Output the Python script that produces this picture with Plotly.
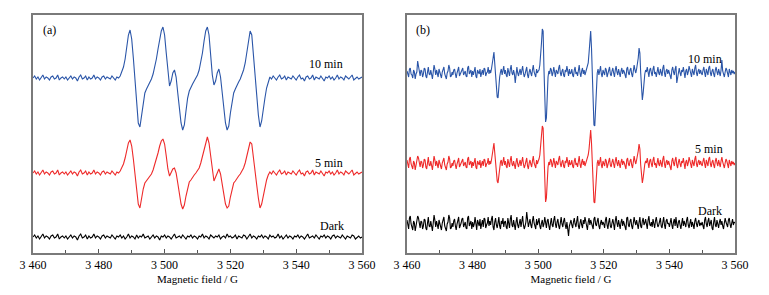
import plotly.graph_objects as go

# Magnetic field grids (G)
field_start = 3460
step_a = 0.5
step_b = 0.25

tick_vals = [3460, 3480, 3500, 3520, 3540, 3560]
tick_text = ["3 460", "3 480", "3 500", "3 520", "3 540", "3 560"]

# ---- Panel (a): 0.5 G sampling ----
a_10min = [
    175,177,174,176,173,175,178,174,176,175,173,176,177,174,175,178,173,175,176,174,  # 3460
    176,173,175,177,174,176,175,172,176,178,174,175,177,173,176,174,175,178,174,176,  # 3470
    175,173,176,177,174,176,175,174,177,175,173,176,175,177,181,186,194,208,218,223,  # 3480
    214,195,170,147,130,126,138,152,160,164,167,170,174,179,186,194,204,214,222,226,  # 3490
    218,200,180,167,172,180,183,176,160,143,130,123,128,142,155,162,166,169,172,175,  # 3500
    178,183,190,200,212,222,226,218,198,178,168,172,180,184,176,160,144,130,123,127,  # 3510
    140,152,160,164,168,171,174,178,183,190,200,212,222,218,200,180,158,138,126,132,  # 3520
    145,155,165,172,176,174,177,175,173,176,178,174,175,177,173,176,175,174,177,175,  # 3530
    173,176,178,174,175,172,176,177,174,175,178,173,176,175,174,177,175,172,176,175,  # 3540
    177,174,176,173,175,178,174,176,175,173,177,175,174,176,178,173,175,176,174,175,  # 3550
    176,
]
a_5min = [
    80,82,79,81,78,80,83,79,81,80,78,81,82,79,80,83,78,80,81,79,
    81,78,80,82,79,81,80,77,81,83,79,80,82,78,81,79,80,83,79,81,
    80,78,81,82,79,81,80,79,82,80,78,81,80,82,85,89,95,104,110,113,
    107,94,77,61,49,45,55,64,70,72,75,77,79,83,88,93,100,107,112,114,
    109,97,84,77,80,84,85,80,70,58,49,44,48,57,66,71,73,76,78,80,
    82,85,90,97,105,112,116,110,96,82,72,76,81,84,79,69,58,49,45,47,
    56,64,70,72,75,77,79,82,85,90,97,105,111,109,97,83,68,55,45,49,
    58,66,73,78,81,79,82,80,78,81,83,79,80,82,78,81,80,79,82,80,
    78,81,83,79,80,77,81,82,79,80,83,78,81,80,79,82,80,77,81,80,
    82,79,81,78,80,83,79,81,80,78,82,80,79,81,83,78,80,81,79,80,
    81,
]
a_dark = [
    16,18,15,17,14,16,19,15,17,16,14,17,18,15,16,19,14,16,17,15,
    17,14,16,18,15,17,16,13,17,19,15,16,18,14,17,15,16,19,15,17,
    16,14,17,18,15,17,16,15,18,16,14,17,16,18,15,17,14,16,19,15,
    17,16,14,18,15,17,16,19,15,16,17,14,16,18,15,17,16,13,17,16,
    18,15,17,16,14,17,19,15,16,17,15,18,16,14,17,16,18,15,17,16,
    14,17,16,19,15,17,16,14,18,16,15,17,16,18,14,16,17,15,19,16,
    17,15,16,18,14,17,16,15,18,17,14,16,19,15,17,16,14,17,16,18,
    15,17,16,14,18,16,17,15,16,19,15,17,14,16,18,15,17,16,14,17,
    16,18,15,17,16,14,17,19,15,16,17,15,18,16,14,17,16,18,15,17,
    16,14,17,18,15,17,16,15,18,16,14,17,16,15,18,17,14,16,17,15,
    16,
]

# ---- Panel (b): 0.25 G sampling ----
b_10min = [
    # 3460
    182,178,176,184,185,179,178,175,183,181,
    174,179,181,192,187,180,177,183,182,176,
    179,185,184,177,175,181,186,179,178,183,
    176,174,181,188,184,178,183,180,176,184,
    # 3470
    180,177,175,181,183,186,179,176,174,180,
    182,188,185,176,177,181,178,183,184,179,
    175,180,183,186,177,179,181,184,185,178,
    180,182,177,176,185,187,179,181,183,176,
    # 3480
    182,178,181,186,177,175,183,180,179,184,
    176,180,183,178,185,184,177,180,181,186,
    179,183,180,184,188,195,201,190,175,162,
    156,155,168,176,181,184,178,182,187,179,
    # 3490
    183,178,176,185,181,177,184,188,180,178,
    183,179,170,182,186,180,177,181,184,178,
    183,187,180,176,179,182,186,178,175,181,
    184,180,177,183,188,181,178,176,184,180,
    # 3500
    182,183,188,196,210,224,222,185,150,131,
    135,160,176,182,179,185,183,177,180,186,
    178,176,183,181,179,185,188,180,177,182,
    184,178,176,183,181,187,180,177,184,179,
    # 3510
    180,184,178,176,183,186,179,181,177,184,
    188,180,176,182,185,179,183,178,181,184,
    185,190,200,212,222,205,170,140,128,127,
    150,170,180,184,178,182,187,179,176,183,
    # 3520
    181,178,185,183,176,180,184,186,179,177,
    182,185,180,176,183,187,181,178,184,180,
    176,182,185,179,183,181,177,175,184,186,
    180,178,183,185,179,176,182,188,183,180,
    # 3530
    184,188,195,205,200,180,162,153,160,172,
    179,183,181,186,178,176,183,185,180,177,
    184,187,179,181,176,183,186,180,178,184,
    181,177,185,188,180,176,182,184,179,183,
    # 3540
    180,177,174,183,186,181,178,184,187,170,
    176,182,185,180,177,183,181,186,179,175,
    182,184,178,181,187,183,179,176,184,181,
    178,185,188,180,177,182,184,179,183,180,
    # 3550
    178,183,186,180,176,184,181,178,185,187,
    180,177,182,184,179,176,183,186,181,178,
    184,180,177,183,193,182,178,176,181,185,
    183,179,176,184,181,178,183,180,182,179,
    181,
]
b_5min = [
    # 3460
    93,88,85,94,96,89,87,84,92,90,
    83,88,91,97,95,89,86,92,91,85,
    88,94,93,86,84,90,96,88,87,92,
    85,83,90,97,93,87,92,89,85,93,
    # 3470
    89,86,84,90,92,95,88,85,83,89,
    91,97,94,85,86,90,87,92,93,88,
    84,89,92,95,86,88,90,93,94,87,
    89,91,86,85,94,96,88,90,92,85,
    # 3480
    91,87,90,95,86,84,92,89,88,93,
    85,89,92,87,94,93,86,89,90,95,
    88,92,89,93,97,104,110,100,88,78,
    72,70,80,87,91,93,87,91,96,88,
    # 3490
    92,87,85,94,90,86,93,97,89,87,
    92,88,84,91,95,89,86,90,93,87,
    92,96,89,85,88,91,95,87,84,90,
    93,89,86,92,97,90,87,85,93,89,
    # 3500
    92,94,98,106,116,127,125,95,68,51,
    55,75,86,91,88,94,92,86,89,95,
    87,85,92,90,88,94,97,89,86,91,
    93,87,85,92,90,96,89,86,93,88,
    # 3510
    89,93,87,85,92,95,88,90,86,93,
    97,89,85,91,94,88,92,87,90,93,
    94,98,104,113,123,110,85,62,51,50,
    68,82,90,93,87,91,96,88,85,92,
    # 3520
    90,87,94,92,85,89,93,95,88,86,
    91,94,89,85,92,96,90,87,93,89,
    85,91,94,88,92,90,86,84,93,95,
    89,87,92,94,88,85,91,97,92,89,
    # 3530
    93,97,102,109,104,88,76,70,75,84,
    89,92,90,95,87,85,92,94,89,86,
    93,96,88,90,85,92,95,89,87,93,
    90,86,94,97,89,85,91,93,88,92,
    # 3540
    89,86,83,92,95,90,87,93,96,88,
    85,91,94,89,86,92,90,95,88,84,
    91,93,87,90,96,92,88,85,93,90,
    87,94,97,89,86,91,93,88,92,89,
    # 3550
    87,92,95,89,85,93,90,87,94,96,
    89,86,91,93,88,85,92,95,90,87,
    93,89,86,92,96,91,87,85,90,94,
    92,88,85,93,90,87,92,89,91,88,
    90,
]
b_dark = [
    # 3460
    33,27,24,35,37,29,26,23,32,30,
    22,28,31,37,35,28,25,32,31,24,
    27,34,33,25,23,30,36,27,26,32,
    24,22,30,38,33,26,32,29,24,33,
    # 3470
    29,25,23,30,33,36,27,24,22,29,
    31,38,35,24,25,30,26,32,34,27,
    23,29,32,36,25,27,30,34,35,26,
    29,31,25,24,35,37,27,30,32,24,
    # 3480
    31,26,29,36,25,23,33,28,27,34,
    24,29,33,26,35,34,25,28,30,36,
    27,32,28,34,37,26,23,31,35,28,
    25,30,36,27,24,32,29,35,26,31,
    # 3490
    32,26,24,35,30,25,34,38,28,26,
    33,27,23,31,36,28,25,30,34,26,
    32,37,28,24,27,31,41,33,26,30,
    34,28,25,32,37,30,26,24,34,28,
    # 3500
    31,35,27,24,30,33,26,29,36,28,
    25,32,34,27,23,30,35,28,26,33,
    37,29,25,31,34,27,24,30,36,29,
    26,32,35,28,24,31,22,17,27,30,
    # 3510
    33,28,25,31,35,29,26,32,37,27,
    24,30,34,28,25,33,29,36,31,26,
    23,31,35,28,33,30,26,24,34,36,
    29,27,32,35,27,24,30,33,28,31,
    # 3520
    29,25,33,36,28,24,31,35,27,25,
    30,34,29,23,32,37,30,26,33,28,
    24,31,34,27,32,29,25,23,35,36,
    28,26,32,34,27,24,30,36,31,28,
    # 3530
    33,29,24,31,36,27,25,32,35,28,
    30,34,26,24,33,37,29,27,31,26,
    34,29,25,32,36,30,26,28,33,35,
    27,25,31,36,28,24,32,34,29,30,
    # 3540
    26,32,35,28,24,31,34,27,36,29,
    25,31,33,28,24,30,35,27,32,29,
    26,33,36,28,25,30,34,26,31,28,
    24,32,35,29,26,31,33,27,30,28,
    # 3550
    31,27,24,33,36,29,26,32,35,27,
    30,33,25,23,31,36,28,26,33,29,
    25,31,34,28,32,27,24,30,35,31,
    28,26,33,35,29,25,30,34,28,31,
    30,
]

labels_a = [("10 min", 3549, 189), ("5 min", 3550, 90), ("Dark", 3551, 27)]
labels_b = [("10 min", 3551, 194), ("5 min", 3552, 104), ("Dark", 3552.5, 42)]

BLUE = "#2a55a8"
RED = "#ee2a2a"
BLACK = "#000000"


def field(y, step):
    return [field_start + step * i for i in range(len(y))]


fig = go.Figure()
for y, c in [(a_10min, BLUE), (a_5min, RED), (a_dark, BLACK)]:
    fig.add_trace(go.Scatter(x=field(y, step_a), y=y, mode="lines",
                             line=dict(color=c, width=1.1),
                             xaxis="x", yaxis="y", showlegend=False, hoverinfo="skip"))
for y, c in [(b_10min, BLUE), (b_5min, RED), (b_dark, BLACK)]:
    fig.add_trace(go.Scatter(x=field(y, step_b), y=y, mode="lines",
                             line=dict(color=c, width=1.1),
                             xaxis="x2", yaxis="y2", showlegend=False, hoverinfo="skip"))

FONT = "Liberation Serif"
W, H = 769, 295
ybot, ytop = 253, 15
ydom = [(H - ybot) / H, (H - ytop) / H]

xcommon = dict(
    range=[3460, 3560], tickmode="array", tickvals=tick_vals, ticktext=tick_text,
    ticks="inside", ticklen=4, tickwidth=1, tickcolor="#555",
    minor=dict(tickvals=[3470, 3490, 3510, 3530, 3550], ticks="inside", ticklen=3,
               tickcolor="#555", tickwidth=1),
    showline=True, mirror=True, linecolor="#7a7a7a", linewidth=1.5,
    showgrid=False, zeroline=False, automargin=False,
    tickfont=dict(family=FONT, size=12, color="#000"),
    title=dict(text="Magnetic field / G", font=dict(family=FONT, size=11, color="#000"),
               standoff=4),
)
ycommon = dict(
    range=[0, 238], showline=True, mirror=True, linecolor="#7a7a7a", linewidth=1.5,
    showticklabels=False, ticks="", showgrid=False, zeroline=False, automargin=False,
)

annotations = []
for txt, xv, yv in labels_a:
    annotations.append(dict(x=xv, y=yv, xref="x", yref="y", text=txt, showarrow=False,
                            font=dict(family=FONT, size=12, color="#000")))
for txt, xv, yv in labels_b:
    annotations.append(dict(x=xv, y=yv, xref="x2", yref="y2", text=txt, showarrow=False,
                            font=dict(family=FONT, size=12, color="#000")))
annotations.append(dict(x=3465, y=223, xref="x", yref="y", text="(a)", showarrow=False,
                        font=dict(family=FONT, size=12, color="#000")))
annotations.append(dict(x=3465, y=223, xref="x2", yref="y2", text="(b)", showarrow=False,
                        font=dict(family=FONT, size=12, color="#000")))

fig.update_layout(
    width=W, height=H, margin=dict(l=0, r=0, t=0, b=0, pad=0, autoexpand=False),
    paper_bgcolor="white", plot_bgcolor="white", hovermode=False,
    xaxis=dict(domain=[33 / W, 362 / W], anchor="y", **xcommon),
    yaxis=dict(domain=ydom, anchor="x", **ycommon),
    xaxis2=dict(domain=[407 / W, 735 / W], anchor="y2", **xcommon),
    yaxis2=dict(domain=ydom, anchor="x2", **ycommon),
    annotations=annotations,
)

fig.write_html("out.html", config={"displayModeBar": False},
               post_script="document.body.style.margin='0';document.body.style.overflow='hidden';")
